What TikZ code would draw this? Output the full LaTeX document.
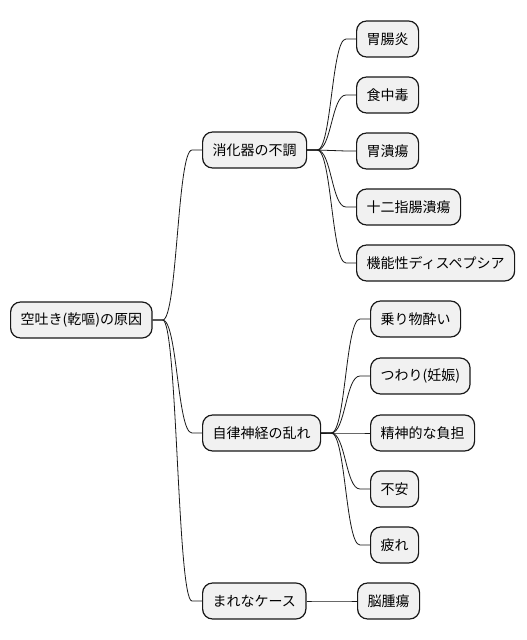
\documentclass[tikz,border=0pt]{standalone}
\usepackage{fontspec}
\newfontfamily\jp{Noto Sans CJK JP}
\usetikzlibrary{calc}
\definecolor{boxfill}{HTML}{F1F1F1}
\definecolor{boxline}{HTML}{181818}
\tikzset{
  mm/.style={draw=boxline, fill=boxfill, line width=1.2pt, rounded corners=10pt,
    minimum height=36pt, inner xsep=10pt, inner ysep=0pt, anchor=west,
    font=\jp\fontsize{14}{16}\selectfont, text=black},
  link/.style={draw=boxline, line width=0.8pt},
}
\newcommand\mmedge[2]{%
  \draw[link] let \p1=(#1.east), \p2=(#2.west) in
    (\p1) -- (\x1+10pt,\y1)
    .. controls ({(\x1+\x2)/2},\y1) and ({(\x1+\x2)/2},\y2) ..
    (\x2-10pt,\y2) -- (\p2);}
\begin{document}
\begin{tikzpicture}[x=1pt,y=-1pt]
\useasboundingbox (0,0) rectangle (527,640);
\node[mm] (root) at (10,320) {空吐き(乾嘔)の原因};
\node[mm] (a) at (202,150) {消化器の不調};
\node[mm] (a1) at (356,39) {胃腸炎};
\node[mm] (a2) at (356,95) {食中毒};
\node[mm] (a3) at (356,151) {胃潰瘍};
\node[mm] (a4) at (356,207) {十二指腸潰瘍};
\node[mm] (a5) at (356,263) {機能性ディスペプシア};
\node[mm] (b) at (202,433) {自律神経の乱れ};
\node[mm] (b1) at (370,319) {乗り物酔い};
\node[mm] (b2) at (370,376) {つわり(妊娠)};
\node[mm] (b3) at (370,433) {精神的な負担};
\node[mm] (b4) at (370,489) {不安};
\node[mm] (b5) at (370,545) {疲れ};
\node[mm] (c) at (202,601) {まれなケース};
\node[mm] (c1) at (357,601) {脳腫瘍};
\mmedge{root}{a}
\mmedge{root}{b}
\mmedge{root}{c}
\mmedge{a}{a1}
\mmedge{a}{a2}
\mmedge{a}{a3}
\mmedge{a}{a4}
\mmedge{a}{a5}
\mmedge{b}{b1}
\mmedge{b}{b2}
\mmedge{b}{b3}
\mmedge{b}{b4}
\mmedge{b}{b5}
\mmedge{c}{c1}
\end{tikzpicture}
\end{document}
